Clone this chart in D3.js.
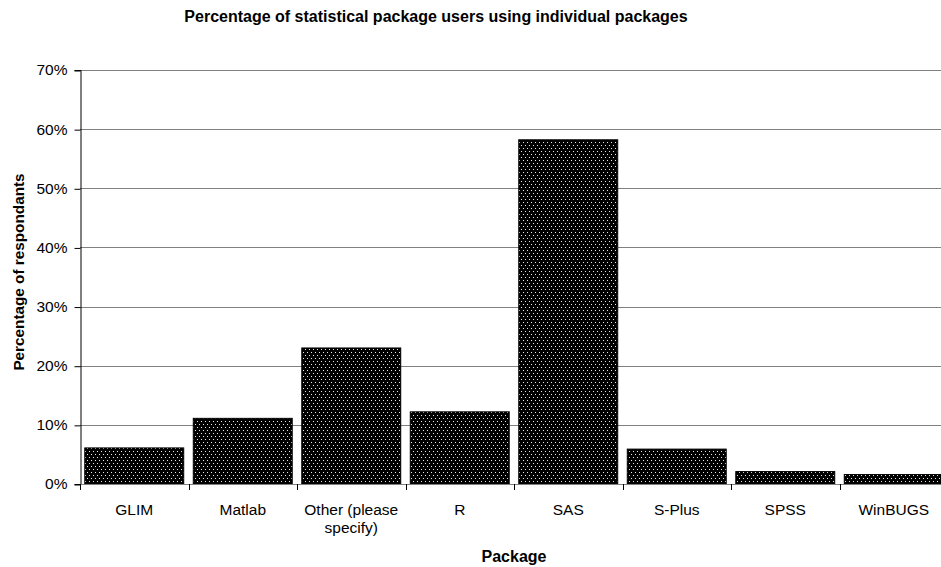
<!DOCTYPE html>
<html><head><meta charset="utf-8">
<script src="https://cdn.jsdelivr.net/npm/d3@7"></script>
<style>body{margin:0;background:#fff}svg{display:block;font-family:Arial,"Liberation Sans",sans-serif}</style>
</head><body>
<svg id="c" width="941" height="567"></svg>
<script>
const categories = ["GLIM","Matlab","Other (please specify)","R","SAS","S-Plus","SPSS","WinBUGS"];
const values = [0.061,0.111,0.230,0.122,0.582,0.059,0.021,0.016];
const yTicks = [0,0.1,0.2,0.3,0.4,0.5,0.6,0.7];
const labelLines = {"Other (please specify)":["Other (please","specify)"]};

const svg = d3.select("#c");
const m = {left:80, top:70, right:948, bottom:484};
const defs = svg.append("defs");
const pat = defs.append("pattern").attr("id","dots").attr("patternUnits","userSpaceOnUse")
  .attr("width",4).attr("height",6);
pat.append("rect").attr("width",4).attr("height",6).attr("fill","#000");
pat.append("rect").attr("x",1).attr("y",1).attr("width",1).attr("height",1).attr("fill","#e8e8e8");
pat.append("rect").attr("x",3).attr("y",4).attr("width",1).attr("height",1).attr("fill","#e8e8e8");

const x = d3.scaleBand().domain(categories).range([m.left,m.right]).paddingInner(0.088).paddingOuter(0.044);
const y = d3.scaleLinear().domain([0,0.7]).range([m.bottom,m.top]);

// gridlines
svg.append("g").selectAll("line").data(yTicks.slice(1)).join("line")
  .attr("x1",m.left).attr("x2",941).attr("y1",d=>Math.round(y(d))+0.5).attr("y2",d=>Math.round(y(d))+0.5)
  .attr("stroke","#808080").attr("stroke-width",1);

// bars
svg.append("g").selectAll("rect").data(values).join("rect")
  .attr("x",(d,i)=>x(categories[i])).attr("width",x.bandwidth())
  .attr("y",d=>y(d)).attr("height",d=>y(0)-y(d))
  .attr("fill","url(#dots)").attr("stroke","#000").attr("stroke-width",1);

// y axis
const ya = svg.append("g").attr("transform",`translate(${m.left+0.5},0)`)
  .call(d3.axisLeft(y).tickValues(yTicks).tickFormat(d3.format(".0%")).tickSize(6).tickPadding(7));
ya.select(".domain").attr("stroke","#000");
ya.selectAll(".tick line").attr("stroke","#000").attr("transform","translate(0,0.5)");
ya.selectAll("text").attr("font-size","15.5px").attr("fill","#000").attr("font-family","Arial, 'Liberation Sans', sans-serif");

// x axis line and ticks at boundaries
const bound = categories.map((c,i)=>m.left + i*(m.right-m.left)/categories.length).concat([m.right]);
svg.append("line").attr("x1",m.left).attr("x2",941).attr("y1",m.bottom+0.5).attr("y2",m.bottom+0.5).attr("stroke","#808080");
svg.append("g").selectAll("line").data(bound).join("line")
  .attr("x1",d=>Math.round(d)+0.5).attr("x2",d=>Math.round(d)+0.5).attr("y1",m.bottom).attr("y2",m.bottom+6).attr("stroke","#000");

// x labels
const xl = svg.append("g");
categories.forEach(c=>{
  const lines = labelLines[c] || [c];
  const t = xl.append("text").attr("x",x(c)+x.bandwidth()/2).attr("y",515)
    .attr("text-anchor","middle").attr("font-size","15.5px");
  lines.forEach((l,i)=>t.append("tspan").attr("x",x(c)+x.bandwidth()/2).attr("dy",i?18:0).text(l));
});

// titles
svg.append("text").attr("x",436).attr("y",22).attr("text-anchor","middle")
  .attr("font-size","16px").attr("font-weight","bold").text("Percentage of statistical package users using individual packages");
svg.append("text").attr("x",514).attr("y",562).attr("text-anchor","middle")
  .attr("font-size","16px").attr("font-weight","bold").text("Package");
svg.append("text").attr("transform","translate(23.5,272) rotate(-90)").attr("text-anchor","middle")
  .attr("font-size","15.3px").attr("font-weight","bold").text("Percentage of respondants");
</script>
</body></html>
